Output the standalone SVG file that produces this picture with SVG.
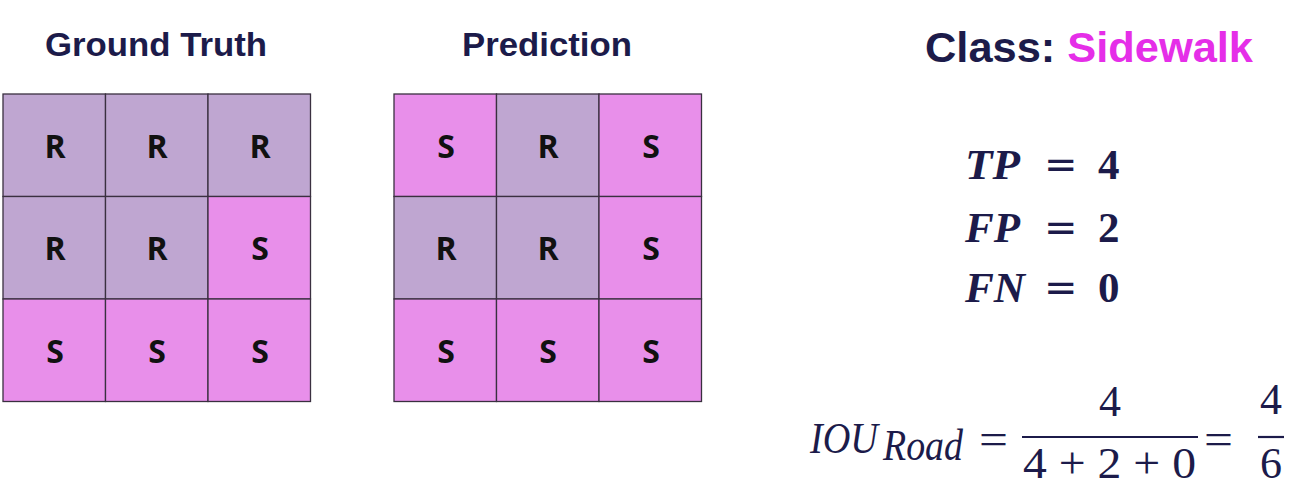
<svg xmlns="http://www.w3.org/2000/svg" width="1292" height="500" viewBox="0 0 1292 500">
<style>
.r{fill:#BFA6D1;stroke:#3a3040;stroke-width:1.3}
.s{fill:#E88FEA;stroke:#3a3040;stroke-width:1.3}
.cl{font-family:"Open Sans","Liberation Sans",sans-serif;font-weight:bold;font-size:32px;fill:#111;text-anchor:middle}
.ttl{font-family:"Liberation Sans",Arial,sans-serif;font-weight:bold;fill:#1C1B4A}
.m{font-family:"Liberation Serif","DejaVu Serif",serif;font-size:44px;fill:#1C1B4A}
.mb{font-family:"Liberation Serif","DejaVu Serif",serif;font-size:43px;font-weight:bold;fill:#1C1B4A}
.eq{font-family:"DejaVu Sans",sans-serif;fill:#1C1B4A}
</style>
<rect width="1292" height="500" fill="#fff"/>
<g id="title-gt"><text class="ttl" x="45" y="56" font-size="34" textLength="222" lengthAdjust="spacingAndGlyphs">Ground Truth</text></g>
<g id="title-pred"><text class="ttl" x="462" y="56" font-size="34" textLength="170" lengthAdjust="spacingAndGlyphs">Prediction</text></g>
<g id="title-class"><text class="ttl" x="925" y="62" font-size="42" textLength="328" lengthAdjust="spacingAndGlyphs">Class: <tspan fill="#E52EE8">Sidewalk</tspan></text></g>
<g id="grid-gt">
<rect class="r" x="3" y="94" width="102.5" height="102.5"/><rect class="r" x="105.5" y="94" width="102.5" height="102.5"/><rect class="r" x="208" y="94" width="102.5" height="102.5"/>
<rect class="r" x="3" y="196.5" width="102.5" height="102.5"/><rect class="r" x="105.5" y="196.5" width="102.5" height="102.5"/><rect class="s" x="208" y="196.5" width="102.5" height="102.5"/>
<rect class="s" x="3" y="299" width="102.5" height="102.5"/><rect class="s" x="105.5" y="299" width="102.5" height="102.5"/><rect class="s" x="208" y="299" width="102.5" height="102.5"/>
<text class="cl" x="55" y="158">R</text><text class="cl" x="157" y="158">R</text><text class="cl" x="260" y="158">R</text>
<text class="cl" x="55" y="260">R</text><text class="cl" x="157" y="260">R</text><text class="cl" x="260" y="260">S</text>
<text class="cl" x="55" y="363">S</text><text class="cl" x="157" y="363">S</text><text class="cl" x="260" y="363">S</text>
</g>
<g id="grid-pred">
<rect class="s" x="394" y="94" width="102.5" height="102.5"/><rect class="r" x="496.5" y="94" width="102.5" height="102.5"/><rect class="s" x="599" y="94" width="102.5" height="102.5"/>
<rect class="r" x="394" y="196.5" width="102.5" height="102.5"/><rect class="r" x="496.5" y="196.5" width="102.5" height="102.5"/><rect class="s" x="599" y="196.5" width="102.5" height="102.5"/>
<rect class="s" x="394" y="299" width="102.5" height="102.5"/><rect class="s" x="496.5" y="299" width="102.5" height="102.5"/><rect class="s" x="599" y="299" width="102.5" height="102.5"/>
<text class="cl" x="446" y="158">S</text><text class="cl" x="548" y="158">R</text><text class="cl" x="651" y="158">S</text>
<text class="cl" x="446" y="260">R</text><text class="cl" x="548" y="260">R</text><text class="cl" x="651" y="260">S</text>
<text class="cl" x="446" y="363">S</text><text class="cl" x="548" y="363">S</text><text class="cl" x="651" y="363">S</text>
</g>
<g id="counts">
<text class="mb" x="965" y="179" font-style="italic" textLength="55" lengthAdjust="spacingAndGlyphs">TP</text><text class="eq" x="1044" y="178" font-size="40">=</text><text class="mb" x="1098" y="179">4</text>
<text class="mb" x="965" y="242" font-style="italic" textLength="55" lengthAdjust="spacingAndGlyphs">FP</text><text class="eq" x="1044" y="241" font-size="40">=</text><text class="mb" x="1098" y="242">2</text>
<text class="mb" x="965" y="302" font-style="italic" textLength="60" lengthAdjust="spacingAndGlyphs">FN</text><text class="eq" x="1044" y="301" font-size="40">=</text><text class="mb" x="1098" y="302">0</text>
</g>
<g id="iou">
<text class="m" x="810" y="453" font-size="48" font-style="italic" textLength="68" lengthAdjust="spacingAndGlyphs">IOU</text>
<text class="m" x="883" y="460" font-size="32" font-style="italic" textLength="80" lengthAdjust="spacingAndGlyphs">Road</text>
<text class="m" x="979" y="454" font-size="50" textLength="29" lengthAdjust="spacingAndGlyphs">=</text>
<text class="m" x="1110" y="416" text-anchor="middle">4</text>
<line x1="1022" y1="437" x2="1198" y2="437" stroke="#1C1B4A" stroke-width="2.2"/>
<text class="m" x="1023" y="478" textLength="173" lengthAdjust="spacingAndGlyphs">4 + 2 + 0</text>
<text class="m" x="1204" y="454" font-size="50" textLength="29" lengthAdjust="spacingAndGlyphs">=</text>
<text class="m" x="1271" y="414" text-anchor="middle">4</text>
<line x1="1258" y1="437" x2="1284" y2="437" stroke="#1C1B4A" stroke-width="2.2"/>
<text class="m" x="1271" y="478" text-anchor="middle">6</text>
</g>
</svg>
